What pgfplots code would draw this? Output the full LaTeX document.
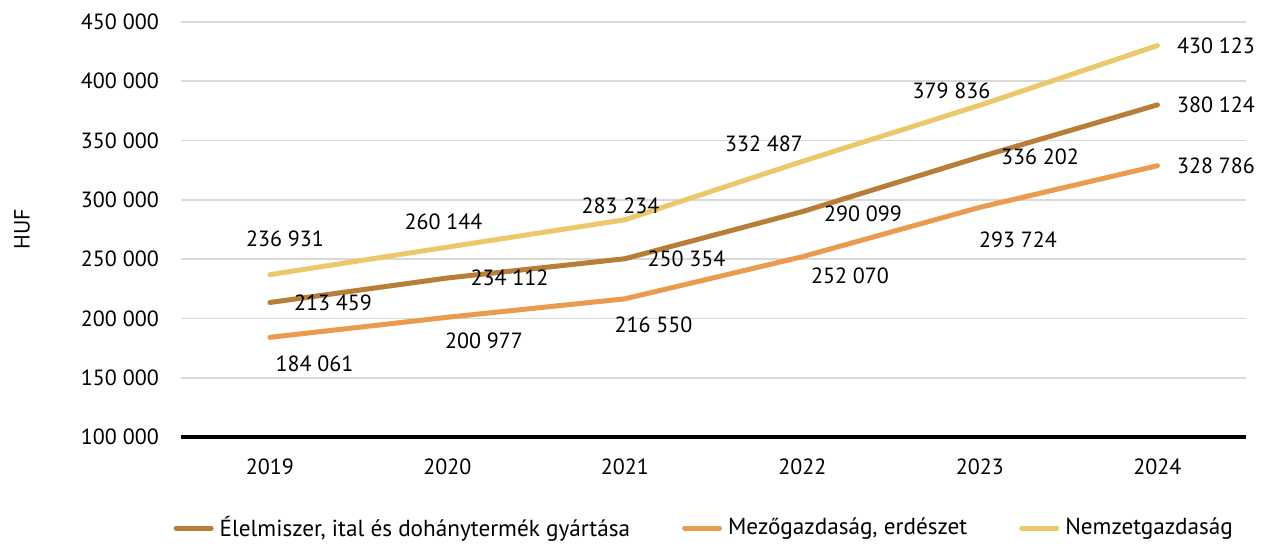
\documentclass[border=0pt]{standalone}
\usepackage{fontspec}
\setmainfont{PT Sans}
\usepackage{pgfplots}
\usepackage{pgfplotstable}
\pgfplotsset{compat=1.18}
\definecolor{cbrown}{RGB}{185,125,58}
\definecolor{corange}{RGB}{233,156,80}
\definecolor{cyellow}{RGB}{235,200,106}
\definecolor{cgrid}{RGB}{217,217,217}

\pgfplotstableread{
x y dx dy
0 213459 31.5 0
1 234112 31 0
2 250354 30.75 0
3 290099 30.25 -1
4 336202 30 0
5 380124 29.25 0
}\elelmiszer

\pgfplotstableread{
x y dx dy
0 184061 22.25 -13.35
1 200977 18.25 -11.85
2 216550 14.25 -13.1
3 252070 23.75 -9.65
4 293724 19 -16.35
5 328786 29.25 0
}\mezogazd

\pgfplotstableread{
x y dx dy
0 236931 7.5 18
1 260144 -2 12.7
2 283234 -2.25 6.85
3 332487 -19.25 8.65
4 379836 -14.25 7.25
5 430123 29.25 0
}\nemzet

\begin{document}
\fontsize{11pt}{13pt}\selectfont
\begin{tikzpicture}
\useasboundingbox (-90.6pt,-53pt) rectangle (542.4pt,218.5pt);
\begin{axis}[
  scale only axis,
  width=532.5pt, height=207.5pt,
  xmin=-0.5, xmax=5.5,
  ymin=100000, ymax=450000,
  xtick={0,1,2,3,4,5},
  xticklabels={2019,2020,2021,2022,2023,2024},
  ytick={100000,150000,200000,250000,300000,350000,400000,450000},
  scaled y ticks=false,
  /pgf/number format/.cd, fixed, precision=0, assume math mode=true, 1000 sep={\ },
  /pgfplots/.cd,
  major tick length=0pt,
  axis line style={draw=none},
  ymajorgrids,
  grid style={cgrid, line width=0.9pt},
  extra y ticks={100000},
  extra y tick labels={},
  extra y tick style={grid style={black, line width=1.7pt}},
  yticklabel style={anchor=east, inner sep=0pt, xshift=-11pt},
  xticklabel style={anchor=center, inner sep=0pt, yshift=-15pt},
  ylabel={HUF},
  every axis y label/.style={at={(rel axis cs:0,0.5)}, xshift=-79.6pt, rotate=90, anchor=center, inner sep=0pt},
  legend columns=3,
  legend style={draw=none, fill=none, inner sep=0pt, outer sep=0pt,
    font=\fontsize{11.6pt}{13pt}\selectfont,
    at={(axis description cs:0,0)}, anchor=west, xshift=-3.75pt, yshift=-45.5pt,
    /tikz/every even column/.append style={column sep=24pt},
    /tikz/every odd column/.append style={column sep=1pt}},
  legend cell align=left,
  legend image code/.code={\draw[#1, line width=2.5pt, line cap=round] (0pt,0pt) -- (17.5pt,0pt);},
  every axis plot/.append style={line width=2.5pt, line cap=round, line join=round,
     nodes near coords,
     visualization depends on={\thisrow{dx}\as\dx},
     visualization depends on={\thisrow{dy}\as\dy},
     every node near coord/.append style={anchor=center, inner sep=0pt, xshift=\dx pt, yshift=\dy pt, text=black}},
]
\addplot[cbrown] table[x=x,y=y]{\elelmiszer};
\addlegendentry{Élelmiszer, ital és dohánytermék gyártása}
\addplot[corange] table[x=x,y=y]{\mezogazd};
\addlegendentry{Mezőgazdaság, erdészet}
\addplot[cyellow] table[x=x,y=y]{\nemzet};
\addlegendentry{Nemzetgazdaság}
\end{axis}
\end{tikzpicture}
\end{document}
